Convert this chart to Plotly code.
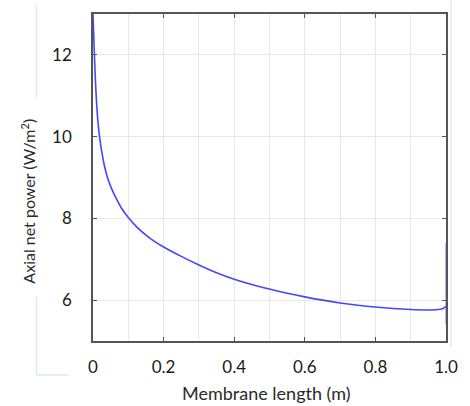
import plotly.graph_objects as go

# Axial net power along the membrane
length_m = [0, 0.002, 0.004, 0.007, 0.01, 0.0135, 0.0185, 0.025, 0.032, 0.041,
            0.052, 0.065, 0.08, 0.1, 0.125, 0.15, 0.175, 0.2, 0.25, 0.3, 0.35,
            0.4, 0.45, 0.5, 0.55, 0.6, 0.65, 0.7, 0.75, 0.8, 0.85, 0.9, 0.94,
            0.97, 0.99, 1.0]
net_power = [13.0, 12.5, 12.0, 11.35, 10.85, 10.42, 10.0, 9.62, 9.3, 9.0,
             8.74, 8.5, 8.26, 8.02, 7.78, 7.59, 7.43, 7.30, 7.07, 6.86, 6.67,
             6.51, 6.38, 6.27, 6.17, 6.08, 6.00, 5.93, 5.875, 5.83, 5.795,
             5.77, 5.76, 5.765, 5.79, 5.85]

# outlet boundary segment
edge_x = [1.0, 1.0]
edge_y = [7.4, 5.4]

x_ticks = [0, 0.2, 0.4, 0.6, 0.8, 1.0]
x_tick_text = ["0", "0.2", "0.4", "0.6", "0.8", "1.0"]
y_ticks = [6, 8, 10, 12]

x_title = "Membrane length (m)"
y_title = "Axial net power (W/m<sup>2</sup>)"

blue = "rgb(70,70,250)"
font_family = "Lato, Open Sans, sans-serif"

fig = go.Figure()
fig.add_trace(go.Scatter(x=edge_x, y=edge_y, mode="lines",
                         line=dict(color="rgba(70,70,250,0.65)", width=1.2),
                         hoverinfo="skip", showlegend=False))
fig.add_trace(go.Scatter(x=length_m, y=net_power, mode="lines",
                         line=dict(color=blue, width=1.6, shape="spline", smoothing=0.8),
                         showlegend=False))

axis_common = dict(
    showline=True, linecolor="#555555", linewidth=1.5, mirror="ticks",
    ticks="inside", ticklen=4, tickcolor="#555555", tickwidth=1,
    showgrid=True, gridcolor="#e8e8e8", gridwidth=1, zeroline=False,
    tickfont=dict(family=font_family, size=17, color="#1a1a1a"),
)

fig.update_xaxes(
    range=[0, 1.0], tickvals=x_ticks, ticktext=x_tick_text,
    minor=dict(dtick=0.1, tick0=0, showgrid=True, gridcolor="#e8e8e8", ticks=""),
    ticklabelstandoff=10,
    **axis_common,
)
fig.update_yaxes(
    range=[5, 13], tickvals=y_ticks,
    ticklabelstandoff=16,
    **axis_common,
)

plot_l, plot_r, plot_t, plot_b = 93, 455, 14, 341


def px_x(px):
    return (px - plot_l) / (plot_r - plot_l)


def px_y(py):
    return (plot_b - py) / (plot_b - plot_t)


fig.add_annotation(text=x_title, xref="paper", yref="paper",
                   x=px_x(271), y=px_y(393), xanchor="center", yanchor="middle",
                   showarrow=False,
                   font=dict(family=font_family, size=18, color="#2a2a2a"))
fig.add_annotation(text=y_title, xref="paper", yref="paper", textangle=-90,
                   x=px_x(26), y=px_y(201), xanchor="center", yanchor="middle",
                   showarrow=False,
                   font=dict(family=font_family, size=16, color="#2a2a2a"))

# faint page-edge rules around the figure
edge_color = "#dfe7f5"
for x0, y0, x1, y1 in [(35, 5, 35, 97), (35, 297, 35, 375), (35, 375, 68, 375),
                       (460, 0, 460, 347)]:
    fig.add_shape(type="line", xref="paper", yref="paper",
                  x0=px_x(x0), y0=px_y(y0), x1=px_x(x1), y1=px_y(y1),
                  line=dict(color=edge_color, width=1.5), layer="below")

fig.update_layout(
    width=470, height=406,
    margin=dict(l=plot_l, r=470 - plot_r, t=plot_t, b=406 - plot_b),
    paper_bgcolor="white", plot_bgcolor="white",
    font=dict(family=font_family),
)

fig.write_html("out.html")
